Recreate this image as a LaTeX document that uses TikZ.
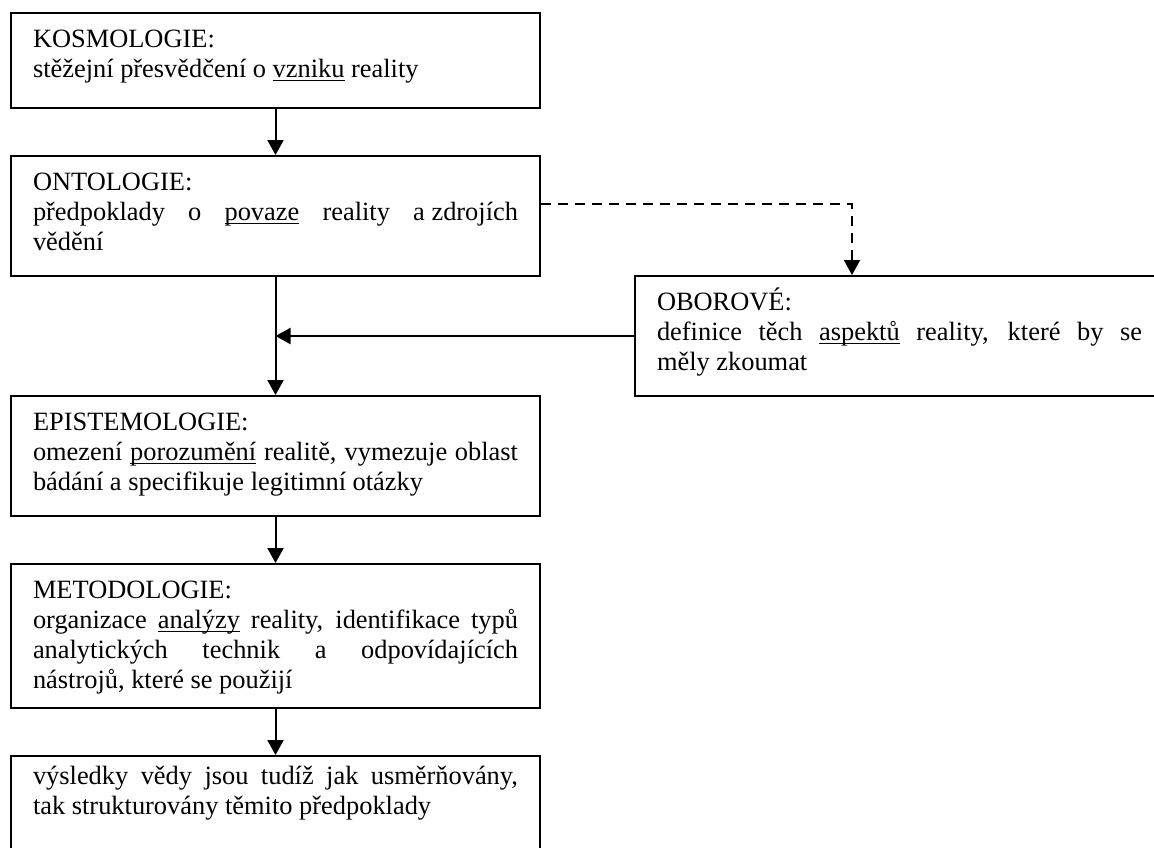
\documentclass[tikz,border=0pt]{standalone}
\usepackage{fontspec}
\setmainfont{Liberation Serif}
\usetikzlibrary{arrows.meta}

\newsavebox\undlbox
\newcommand\undl[1]{\sbox\undlbox{#1}\makebox[0pt][l]{\rule[-2pt]{\wd\undlbox}{0.7pt}}\usebox\undlbox}
\newcommand\fullline[1]{\makebox[242.5pt][s]{\spaceskip=0pt\xspaceskip=0pt #1}}

\begin{document}
\begin{tikzpicture}[x=0.5pt,y=-0.5pt,
  >={Triangle[width=8pt,length=7.5pt]},
  line width=1pt,
  block/.style={draw, rectangle, anchor=north west, inner xsep=11pt, inner ysep=0pt,
    text width=242.5pt, align=justify, text height=17pt, text depth=#1,
    font=\fontsize{13.2pt}{15pt}\selectfont},
  dashline/.style={dash pattern=on 5pt off 3.5pt}]

  \useasboundingbox (0,0) rectangle (1154,847);
  \clip (0,0) rectangle (1154,847);

  \node [block=30.5pt] (kos) at (10,12) {KOSMOLOGIE:\\
    stěžejní přesvědčení o \undl{vzniku} reality};
  \node [block=43pt] (ont) at (10,155) {ONTOLOGIE:\\
    \fullline{předpoklady o \undl{povaze} reality \mbox{a zdrojích}}\\
    vědění};
  \node [block=43pt] (obor) at (634,275) {OBOROVÉ:\\
    \fullline{definice těch \undl{aspektů} reality, které by se}\\
    měly zkoumat};
  \node [block=43pt] (epi) at (10,395) {EPISTEMOLOGIE:\\
    \fullline{omezení \undl{porozumění} realitě, vymezuje oblast}\\
    bádání a specifikuje legitimní otázky};
  \node [block=55pt] (met) at (10,563) {METODOLOGIE:\\
    \fullline{organizace \undl{analýzy} reality, identifikace typů}\\
    \fullline{analytických technik a odpovídajících}\\
    nástrojů, které se použijí};
  \node [block=48.5pt, text height=14pt] (vys) at (10,755) {%
    \fullline{výsledky vědy jsou tudíž jak usměrňovány,}\\
    tak strukturovány těmito předpoklady};

  \draw [->] (kos) -- (ont);
  \draw [->] (ont) -- (epi);
  \draw [->] (epi) -- (met);
  \draw [->] (met) -- (vys);
  \draw [->] (obor.west) -- (obor.west -| ont.south);
  \draw [->, dashline] ([yshift=6pt]ont.east) -| ([xshift=-23.75pt]obor.north);

\end{tikzpicture}
\end{document}
